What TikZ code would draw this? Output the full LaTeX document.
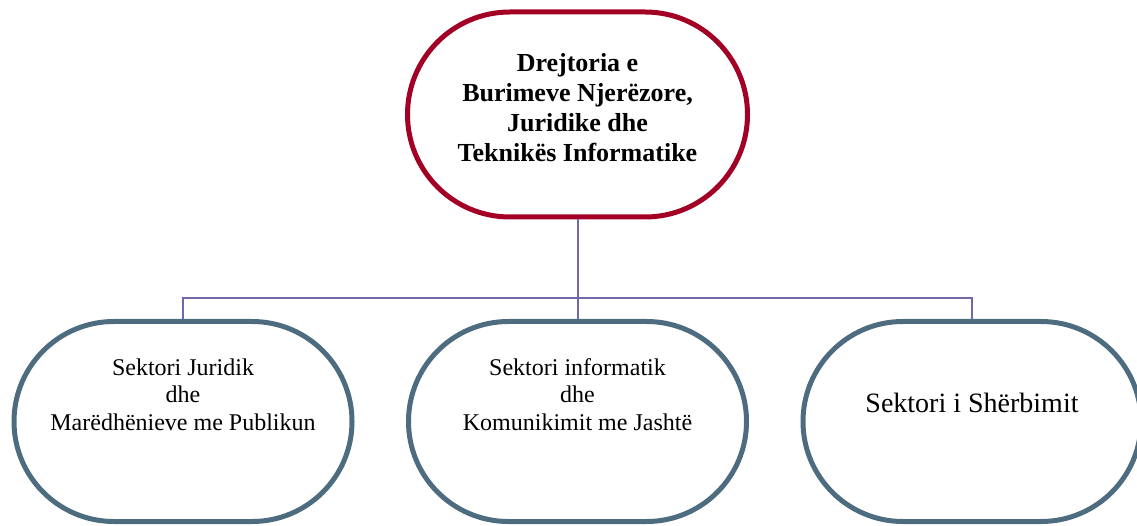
\documentclass[tikz,border=0pt]{standalone}
\usepackage{fontspec}
\setmainfont{Liberation Serif}
\usetikzlibrary{positioning}
\definecolor{bordorosso}{RGB}{162,0,37}
\definecolor{bordoblu}{RGB}{77,108,128}
\definecolor{linea}{RGB}{112,104,168}
\tikzset{
    box/.style={draw, line width=5pt, rounded corners=99.9pt, fill=white, inner sep=0pt, minimum width=338pt, minimum height=200pt}, % forma comune
    capo/.style={box, draw=bordorosso, rounded corners=102.4pt, minimum width=340pt, minimum height=205pt}, % direzione
    settore/.style={box, draw=bordoblu}, % settori
    testo/.style={align=center, inner sep=0pt, font=\fontsize{24}{27.5}\selectfont},
}
\tikzstyle{link} = [draw=linea, line width=2pt]

\begin{document}
\begin{tikzpicture}[x=1pt, y=1pt, on grid, node distance=394.5pt]
                \useasboundingbox (0,0) rectangle (1137,525);
                % Nodi
                \node[capo] (dir) at (577.5,410.5) {};
                \node[settore] (inf) [below=307pt of dir] {};
                \node[settore] (jur) [left=of inf] {};
                \node[settore] (sher) [right=of inf] {};

                % Collegamenti
                \path[link]
                (dir.south) -- ++(0,-78.5) -| (jur.north)
                (dir.south) -- (inf.north)
                (dir.south) -- ++(0,-78.5) -| (sher.north);

                % Testi
                \node[testo, font=\fontsize{26}{30}\selectfont\bfseries] (tdir) at ([yshift=7pt]dir.center)
                    {Drejtoria e\\Burimeve Njerëzore,\\Juridike dhe\\Teknikës Informatike};
                \node[testo] (tjur) at ([yshift=27pt]jur.center)
                    {Sektori Juridik\\dhe\\Marëdhënieve me Publikun};
                \node[testo] (tinf) at ([yshift=27pt]inf.center)
                    {Sektori informatik\\dhe\\Komunikimit me Jashtë};
                \node[testo, font=\fontsize{28}{32}\selectfont] (tsher) at ([yshift=19pt]sher.center)
                    {Sektori i Shërbimit};

            \end{tikzpicture}
\end{document}
